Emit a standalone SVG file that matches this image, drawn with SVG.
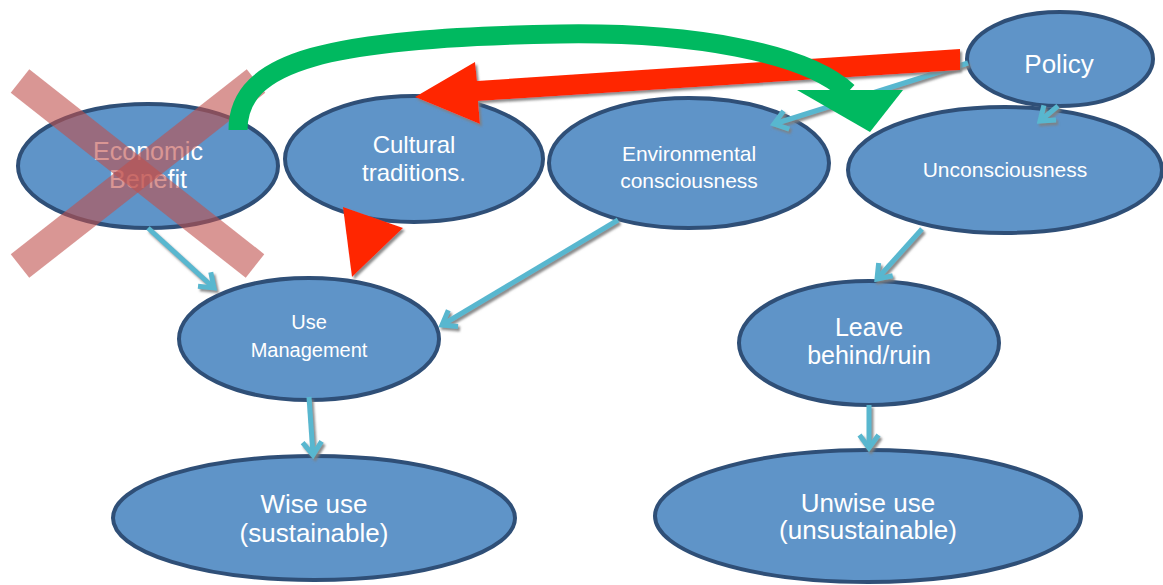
<svg xmlns="http://www.w3.org/2000/svg" width="1163" height="585" viewBox="0 0 1163 585">
  <style>
    .node { fill: #5f94c8; stroke: #2f4f77; stroke-width: 4; }
    .label { fill: #ffffff; font-family: "Liberation Sans", Arial, sans-serif; text-anchor: middle; }
    .link { stroke: #59b7cf; stroke-width: 5; fill: none; }
  </style>
  <defs>
    <filter id="shadow" x="-10%" y="-10%" width="130%" height="140%">
      <feDropShadow dx="2" dy="2.5" stdDeviation="0.8" flood-color="#7f7f7f" flood-opacity="0.9"/>
    </filter>
    <marker id="vee" viewBox="-16 -13 20 26" markerWidth="20" markerHeight="26" refX="0" refY="0" orient="auto" markerUnits="userSpaceOnUse">
      <path d="M-13,-9.5 L0,0 L-13,9.5" fill="none" stroke="#59b7cf" stroke-width="5" stroke-linejoin="miter" stroke-linecap="butt"/>
    </marker>
  </defs>

  <rect width="1163" height="585" fill="#ffffff"/>

  <!-- nodes -->
  <g id="economic-benefit">
    <ellipse class="node" cx="148" cy="166" rx="130" ry="62"/>
    <text class="label" font-size="25"><tspan x="148" y="160">Economic</tspan><tspan x="148" y="188">Benefit</tspan></text>
  </g>
  <g id="cultural-traditions">
    <ellipse class="node" cx="414" cy="159" rx="129" ry="63"/>
    <text class="label" font-size="24"><tspan x="414" y="153">Cultural</tspan><tspan x="414" y="181">traditions.</tspan></text>
  </g>
  <g id="environmental-consciousness">
    <ellipse class="node" cx="689" cy="163" rx="140" ry="65"/>
    <text class="label" font-size="21"><tspan x="689" y="161">Environmental</tspan><tspan x="689" y="188">consciousness</tspan></text>
  </g>
  <g id="unconsciousness">
    <ellipse class="node" cx="1005" cy="170" rx="157" ry="63"/>
    <text class="label" font-size="21" x="1005" y="177">Unconsciousness</text>
  </g>
  <g id="policy">
    <ellipse class="node" cx="1060" cy="59" rx="93" ry="47"/>
    <text class="label" font-size="26" x="1059" y="73">Policy</text>
  </g>
  <g id="use-management">
    <ellipse class="node" cx="309" cy="339" rx="130" ry="61"/>
    <text class="label" font-size="20"><tspan x="309" y="329">Use</tspan><tspan x="309" y="357">Management</tspan></text>
  </g>
  <g id="wise-use">
    <ellipse class="node" cx="314" cy="518" rx="201" ry="62"/>
    <text class="label" font-size="26"><tspan x="314" y="513">Wise use</tspan><tspan x="314" y="542">(sustainable)</tspan></text>
  </g>
  <g id="leave-behind">
    <ellipse class="node" cx="869" cy="343" rx="130" ry="62"/>
    <text class="label" font-size="25"><tspan x="869" y="336">Leave</tspan><tspan x="869" y="364">behind/ruin</tspan></text>
  </g>
  <g id="unwise-use">
    <ellipse class="node" cx="868" cy="516" rx="213" ry="66"/>
    <text class="label" font-size="26"><tspan x="868" y="512">Unwise use</tspan><tspan x="868" y="539">(unsustainable)</tspan></text>
  </g>

  <!-- cross over the economic benefit node -->
  <g id="cross" fill="none" stroke="#c0504d" stroke-width="30" stroke-opacity="0.6" stroke-linecap="butt">
    <line x1="20" y1="81" x2="255" y2="266"/>
    <line x1="256" y1="81" x2="20" y2="266"/>
  </g>

  <!-- connectors -->
  <g id="connectors">
    <g filter="url(#shadow)">
      <line class="link" x1="148" y1="228" x2="214" y2="288" marker-end="url(#vee)"/>
      <line class="link" x1="618" y1="220" x2="442" y2="325" marker-end="url(#vee)"/>
      <line class="link" x1="968" y1="63" x2="774" y2="124" marker-end="url(#vee)"/>
      <line class="link" x1="1058" y1="106" x2="1040" y2="121" marker-end="url(#vee)"/>
      <line class="link" x1="922" y1="229" x2="877" y2="279" marker-end="url(#vee)"/>
      <line class="link" x1="869" y1="405" x2="869" y2="448" marker-end="url(#vee)"/>
      <line class="link" x1="309" y1="397" x2="313" y2="455" marker-end="url(#vee)"/>
    </g>
    <g filter="url(#shadow)" fill="#ff2600">
      <polygon points="960,49 477,81 475,62 415,97 480,124 478,101 960,70"/>
      <polygon points="343,207 403,228 352,277"/>
    </g>
    <g id="green-arrow">
      <path d="M238,130 C238,60 330,38 560,34 C690,32 805,52 848,92" fill="none" stroke="#00b960" stroke-width="19"/>
      <polygon points="797,90 903,90 870,132" fill="#00b960"/>
    </g>
  </g>
</svg>
